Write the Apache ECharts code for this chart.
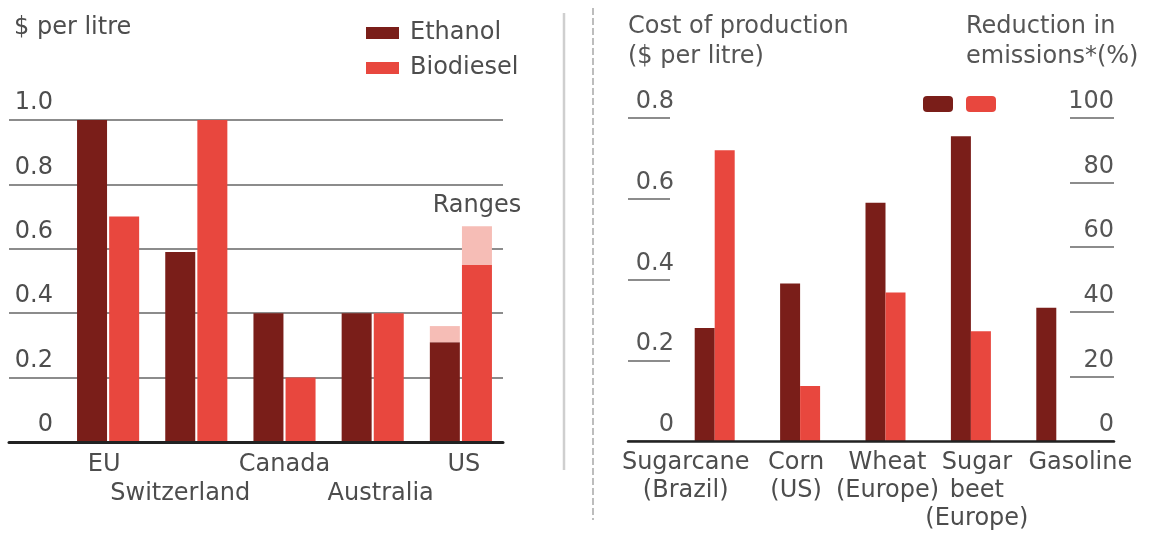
<!DOCTYPE html>
<html>
<head>
<meta charset="utf-8">
<script src="https://cdn.jsdelivr.net/npm/echarts@6/dist/echarts.min.js"></script>
<style>
html,body{margin:0;padding:0;background:#fff;}
#chart{width:1171px;height:534px;}
</style>
</head>
<body>
<div id="chart"></div>
<script>
// ---- Left panel data ($ per litre) ----
const countries = ['EU', 'Switzerland', 'Canada', 'Australia', 'US'];
const ethanol = [1.0, 0.59, 0.40, 0.40, 0.31];
const biodiesel = [0.70, 1.0, 0.20, 0.40, 0.55];
const ethanolHigh = [null, null, null, null, 0.36];
const biodieselHigh = [null, null, null, null, 0.67];
const leftTicks = [0, 0.2, 0.4, 0.6, 0.8, 1.0];

// ---- Right panel data ----
const feedstocks = ['Sugarcane\n(Brazil)', 'Corn\n(US)', 'Wheat\n(Europe)', 'Sugar\nbeet\n(Europe)', 'Gasoline'];
const costPerLitre = [0.28, 0.39, 0.59, 0.755, 0.33];
const emissionCut = [90, 17, 46, 34, null];
const costTicks = [0, 0.2, 0.4, 0.6, 0.8];
const cutTicks = [0, 20, 40, 60, 80, 100];

const DARK = '#7a1e19', RED = '#e8473e', PINK = '#f6bdb6';
const TXT = '#4d4d4d', FONT = 'DejaVu Sans';

const ethRange = ethanolHigh.map((h, i) => h == null ? null : +(h - ethanol[i]).toFixed(3));
const bioRange = biodieselHigh.map((h, i) => h == null ? null : +(h - biodiesel[i]).toFixed(3));

const fmtDec = v => v === 0 ? '0' : v.toFixed(1);

const chart = echarts.init(document.getElementById('chart'));
const option = {
  animation: false,
  backgroundColor: '#fff',
  textStyle: { fontFamily: FONT, color: TXT },
  grid: [
    { left: 9, width: 494, top: 120, height: 322 },
    { left: 64, width: 441, top: 120, height: 322 },
    { left: 628, width: 486, top: 118, height: 323 },
    { left: 672, width: 427, top: 118, height: 323 }
  ],
  legend: [
    {
      data: ['Ethanol', 'Biodiesel'], orient: 'vertical', left: 361, top: 16,
      itemWidth: 33, itemHeight: 12, itemGap: 11, selectedMode: false, icon: 'rect',
      textStyle: { fontSize: 24, color: TXT, fontFamily: FONT, padding: [0, 0, 0, 6] }
    },
    {
      data: ['Cost of production', 'Reduction in emissions'], orient: 'horizontal', left: 918, top: 91,
      itemWidth: 30, itemHeight: 16, itemGap: 13, selectedMode: false, icon: 'roundRect',
      formatter: () => ''
    }
  ],
  xAxis: [
    { gridIndex: 0, type: 'value', min: 0, max: 1, z: 5,
      axisLine: { show: true, lineStyle: { color: '#222', width: 3 } },
      axisTick: { show: false }, axisLabel: { show: false }, splitLine: { show: false } },
    { gridIndex: 1, type: 'category', data: countries,
      axisLine: { show: false }, axisTick: { show: false },
      axisLabel: {
        interval: 0, margin: 8, fontSize: 24, lineHeight: 29, color: TXT, fontFamily: FONT,
        formatter: (v, i) => (i % 2 === 1 ? '\n' : '') + '{c' + i + '|' + v + '}',
        rich: {
          c0: { padding: [0, 8, 0, 0] },
          c1: { padding: [0, 32, 0, 0] },
          c2: {},
          c3: { padding: [0, 0, 0, 16] },
          c4: { padding: [0, 0, 0, 6] }
        }
      } },
    { gridIndex: 2, type: 'value', min: 0, max: 1, z: 5,
      axisLine: { show: true, lineStyle: { color: '#222', width: 2.5 } },
      axisTick: { show: false }, axisLabel: { show: false }, splitLine: { show: false } },
    { gridIndex: 3, type: 'category', data: feedstocks,
      axisLine: { show: false }, axisTick: { show: false },
      axisLabel: {
        interval: 0, margin: 8, fontSize: 24, lineHeight: 28, color: TXT, fontFamily: FONT,
        formatter: (v, i) => v.split('\n').map(l => '{f' + i + '|' + l + '}').join('\n'),
        rich: {
          f0: { padding: [0, 58, 0, 0] },
          f1: { padding: [0, 8, 0, 0] },
          f2: { padding: [0, 0, 0, 4] },
          f3: { padding: [0, 0, 0, 12] },
          f4: { padding: [0, 0, 0, 48] }
        }
      } }
  ],
  yAxis: [
    { gridIndex: 0, type: 'value', min: 0, max: 1, interval: 0.2,
      axisLine: { show: false }, axisTick: { show: false },
      splitLine: { show: true, lineStyle: { color: '#8c8c8c', width: 2 } },
      axisLabel: { inside: true, margin: 44, align: 'right', verticalAlign: 'bottom',
        padding: [0, 0, 5, 0], fontSize: 24, color: TXT, fontFamily: FONT,
        formatter: v => leftTicks.indexOf(+v.toFixed(1)) >= 0 ? fmtDec(v) : '' } },
    { gridIndex: 1, type: 'value', min: 0, max: 1, show: false },
    { gridIndex: 2, type: 'value', min: 0, max: 0.8, interval: 0.2, position: 'left',
      axisLine: { show: false }, splitLine: { show: false },
      axisTick: { show: true, inside: true, length: 42, lineStyle: { color: '#8c8c8c', width: 2 } },
      axisLabel: { inside: true, margin: 46, align: 'right', verticalAlign: 'bottom',
        padding: [0, 0, 4, 0], fontSize: 24, color: '#555', fontFamily: FONT,
        formatter: v => costTicks.indexOf(+v.toFixed(1)) >= 0 ? fmtDec(v) : '' } },
    { gridIndex: 2, type: 'value', min: 0, max: 100, interval: 20, position: 'right',
      axisLine: { show: false }, splitLine: { show: false },
      axisTick: { show: true, inside: true, length: 44, lineStyle: { color: '#8c8c8c', width: 2 } },
      axisLabel: { inside: true, margin: 0, align: 'right', verticalAlign: 'bottom',
        padding: [0, 0, 4, 0], fontSize: 24, color: '#555', fontFamily: FONT,
        formatter: v => cutTicks.indexOf(v) >= 0 ? String(v) : '' } },
    { gridIndex: 3, type: 'value', min: 0, max: 0.8, show: false },
    { gridIndex: 3, type: 'value', min: 0, max: 100, show: false }
  ],
  series: [
    { name: 'Ethanol', type: 'bar', xAxisIndex: 1, yAxisIndex: 1, stack: 'eth', data: ethanol,
      itemStyle: { color: DARK }, barWidth: 30, barGap: '7%' },
    { name: 'Ethanol range', type: 'bar', xAxisIndex: 1, yAxisIndex: 1, stack: 'eth', data: ethRange,
      itemStyle: { color: PINK }, barWidth: 30, barGap: '7%' },
    { name: 'Biodiesel', type: 'bar', xAxisIndex: 1, yAxisIndex: 1, stack: 'bio', data: biodiesel,
      itemStyle: { color: RED }, barWidth: 30, barGap: '7%' },
    { name: 'Biodiesel range', type: 'bar', xAxisIndex: 1, yAxisIndex: 1, stack: 'bio', data: bioRange,
      itemStyle: { color: PINK }, barWidth: 30, barGap: '7%' },
    { name: 'Cost of production', type: 'bar', xAxisIndex: 3, yAxisIndex: 4, data: costPerLitre,
      itemStyle: { color: DARK }, barWidth: 20, barGap: '0%' },
    { name: 'Reduction in emissions', type: 'bar', xAxisIndex: 3, yAxisIndex: 5, data: emissionCut,
      itemStyle: { color: RED }, barWidth: 20, barGap: '0%' }
  ],
  graphic: [
    { type: 'text', x: 14, y: 28, style: { text: '$ per litre', font: '24px "DejaVu Sans"', fill: TXT, verticalAlign: 'middle' } },
    { type: 'text', x: 477, y: 206, style: { text: 'Ranges', font: '24px "DejaVu Sans"', fill: TXT, align: 'center', verticalAlign: 'middle' } },
    { type: 'text', x: 628, y: 27, style: { text: 'Cost of production', font: '24px "DejaVu Sans"', fill: '#555', verticalAlign: 'middle' } },
    { type: 'text', x: 628, y: 57, style: { text: '($ per litre)', font: '24px "DejaVu Sans"', fill: '#555', verticalAlign: 'middle' } },
    { type: 'text', x: 966, y: 27, style: { text: 'Reduction in', font: '24px "DejaVu Sans"', fill: '#555', verticalAlign: 'middle' } },
    { type: 'text', x: 966, y: 57, style: { text: 'emissions*(%)', font: '24px "DejaVu Sans"', fill: '#555', verticalAlign: 'middle' } },
    { type: 'line', shape: { x1: 564, y1: 13, x2: 564, y2: 470 }, style: { stroke: '#cfcfcf', lineWidth: 2.5 } },
    { type: 'line', shape: { x1: 593, y1: 8, x2: 593, y2: 520 }, style: { stroke: '#a8a8a8', lineWidth: 1.5, lineDash: [7, 3] } }
  ]
};
chart.setOption(option);
</script>
</body>
</html>
